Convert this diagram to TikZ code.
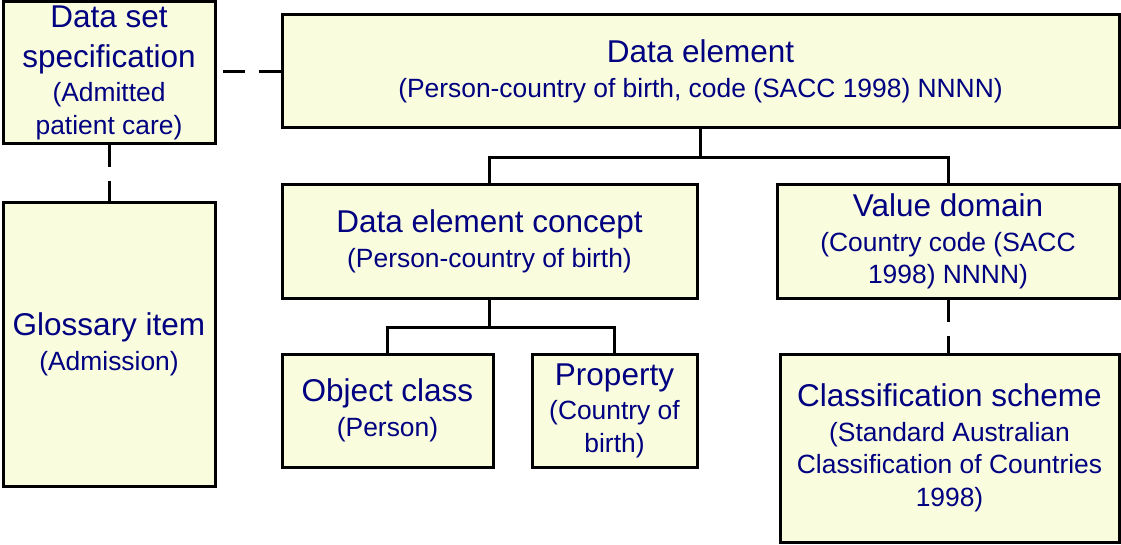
\documentclass[tikz,border=0pt]{standalone}
\usepackage{fontspec}
\setmainfont{Liberation Sans}
\definecolor{boxfill}{RGB}{249,252,221}
\definecolor{labelblue}{RGB}{0,0,128}
% fixed word spacing taken from the font now in force
\newcommand{\boxhead}{\fontsize{31.5}{40}\selectfont\spaceskip=\fontdimen2\font\relax}
\newcommand{\boxsub}{\par\vskip 2pt\fontsize{26.4}{32.5}\selectfont\spaceskip=\fontdimen2\font\relax}
\newcommand{\boxend}{\par\vskip -6pt}
\tikzset{
  mbox/.style={draw=black, line width=3pt, fill=boxfill, text=labelblue,
    align=center, inner sep=0pt, font=\fontsize{26.4}{32.5}\selectfont},
  link/.style={line width=3pt, line join=miter},
  dashlink/.style={line width=3pt, dash pattern=on 22pt off 14pt}
}
\begin{document}
\begin{tikzpicture}[x=1pt,y=-1pt]
\useasboundingbox (0,0) rectangle (1121,545);

% boxes
\node[mbox, minimum width=212pt, minimum height=142.5pt, text width=204pt] (dss) at (109,72.75)
  {\boxhead Data set\\specification\boxsub (Admitted\\patient care)\boxend};
\node[mbox, minimum width=837pt, minimum height=113pt, text width=829pt] (de) at (700.5,71.5)
  {\boxhead Data element\boxsub (Person-country of birth, code (SACC 1998) NNNN)\boxend};
\node[mbox, minimum width=212pt, minimum height=283pt, text width=204pt] (gi) at (109,344.5)
  {\boxhead Glossary item\boxsub (Admission)\boxend};
\node[mbox, minimum width=415pt, minimum height=113pt, text width=407pt] (dec) at (489.5,241.5)
  {\boxhead Data element concept\boxsub (Person-country of birth)\boxend};
\node[mbox, minimum width=342pt, minimum height=113pt, text width=334pt] (vd) at (948,241.5)
  {\boxhead Value domain\boxsub (Country code (SACC\\1998) NNNN)\boxend};
\node[mbox, minimum width=211pt, minimum height=113pt, text width=203pt] (oc) at (387.5,410.5)
  {\boxhead Object class\boxsub (Person)\boxend};
\node[mbox, minimum width=165pt, minimum height=113pt, text width=159pt] (pr) at (614.5,410.5)
  {\boxhead Property\boxsub (Country of\\birth)\boxend};
\node[mbox, minimum width=339pt, minimum height=188pt, text width=333pt] (cs) at (949.5,448)
  {\boxhead Classification scheme\boxsub (Standard Australian\\Classification of Countries\\1998)\boxend};

% tree connectors
\draw[link] (de.south) -- ++(0,28) coordinate (j1);
\draw[link] (dec.north) |- (j1) -| (vd.north);
\draw[link] (dec.south) -- ++(0,28) coordinate (j2);
\draw[link] (oc.north) |- (j2) -| (pr.north);

% dashed associations
\draw[dashlink] (de.west) -- (de.west -| dss.east);
\draw[dashlink] (dss.south) -- (dss.south |- gi.north);
\draw[dashlink] (vd.south) -- (vd.south |- cs.north);
\end{tikzpicture}
\end{document}
